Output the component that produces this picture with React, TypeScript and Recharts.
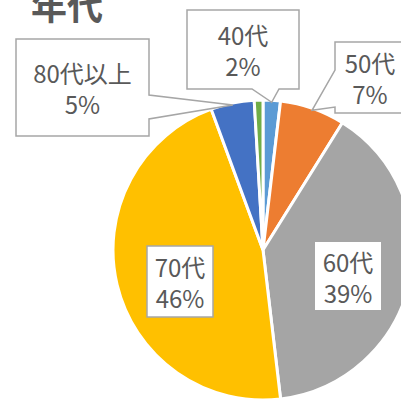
import React from 'react';
import { PieChart, Pie, Cell } from 'recharts';

// 年代別の構成 (人数)
const ageGroups = ['40代', '50代', '60代', '70代', '80代以上', '不明'];
const counts = [4, 15, 84, 99, 10, 2];
const sliceColors = ['#5B9BD5', '#ED7D31', '#A5A5A5', '#FFC000', '#4472C4', '#70AD47'];
const labelled = [true, true, true, true, true, false];

const total = counts.reduce((a, b) => a + b, 0);
const pieData = ageGroups.map((name, i) => ({ name, value: counts[i] }));

const RAD = Math.PI / 180;
const TEXT = '#595959';
const BORDER = '#A6A6A6';

type Wedge = { side: 'bottom' | 'left' | 'right'; a: number; b: number };
interface BoxLayout {
  dx: number;
  dy: number;
  w: number;
  h: number;
  border: boolean;
  wedge?: Wedge;
}

// label box placement, relative to the pie centre
const boxLayout: BoxLayout[] = [
  { dx: -76, dy: -240, w: 112, h: 79, border: true, wedge: { side: 'bottom', a: -11, b: 16 } },
  { dx: 72, dy: -208, w: 70, h: 71, border: true, wedge: { side: 'left', a: -180, b: -143 } },
  { dx: 52, dy: -8, w: 66, h: 68, border: false },
  { dx: -116, dy: -4, w: 66, h: 71, border: true },
  { dx: -247, dy: -211, w: 133, h: 97, border: true, wedge: { side: 'right', a: -155, b: -131 } },
];

const renderLabel = (props: any) => {
  const { cx, cy, midAngle, outerRadius, index } = props;
  if (!labelled[index]) return null;
  const box = boxLayout[index];
  const L = cx + box.dx;
  const T = cy + box.dy;
  const R = L + box.w;
  const B = T + box.h;
  const tr = outerRadius - 2;
  const tx = cx + tr * Math.cos(-midAngle * RAD);
  const ty = cy + tr * Math.sin(-midAngle * RAD);
  let d = `M${L},${T}H${R}V${B}H${L}Z`;
  const w = box.wedge;
  if (w && w.side === 'bottom') {
    d = `M${L},${T}H${R}V${B}H${cx + w.b}L${tx},${ty}L${cx + w.a},${B}H${L}Z`;
  } else if (w && w.side === 'left') {
    d = `M${L},${T}H${R}V${B}H${L}V${cy + w.b}L${tx},${ty}L${L},${cy + w.a}Z`;
  } else if (w && w.side === 'right') {
    d = `M${L},${T}H${R}V${cy + w.a}L${tx},${ty}L${R},${cy + w.b}V${B}H${L}Z`;
  }
  const mx = (L + R) / 2;
  const my = (T + B) / 2;
  const pct = Math.round((counts[index] / total) * 100);
  return (
    <g key={`lbl-${index}`}>
      <path d={d} fill="#fff" stroke={box.border ? BORDER : 'none'} strokeWidth={1.5} />
      <text
        x={mx}
        textAnchor="middle"
        dominantBaseline="central"
        fill={TEXT}
        fontSize={24}
        fontFamily="'Noto Sans CJK JP', 'Noto Sans', sans-serif"
      >
        <tspan x={mx} y={my - 15.5}>{ageGroups[index]}</tspan>
        <tspan x={mx} y={my + 15.5}>{pct}%</tspan>
      </text>
    </g>
  );
};

export default function App() {
  return (
    <div style={{ position: 'absolute', left: 0, top: 0, width: 401, height: 401, background: '#fff', overflow: 'hidden' }}>
      <PieChart width={401} height={401} margin={{ top: 0, right: 0, bottom: 0, left: 0 }}>
        <Pie
          data={pieData}
          dataKey="value"
          nameKey="name"
          cx={263}
          cy={250}
          outerRadius={150}
          startAngle={90}
          endAngle={-270}
          stroke="#fff"
          strokeWidth={3}
          label={renderLabel}
          labelLine={false}
          isAnimationActive={false}
        >
          {pieData.map((d, i) => (
            <Cell key={d.name} fill={sliceColors[i]} />
          ))}
        </Pie>
      </PieChart>
      <div
        style={{
          position: 'absolute',
          left: 31,
          top: -14,
          fontSize: 36,
          lineHeight: '36px',
          fontWeight: 'bold',
          color: TEXT,
          fontFamily: "'Noto Sans CJK JP', sans-serif",
        }}
      >
        年代
      </div>
    </div>
  );
}
